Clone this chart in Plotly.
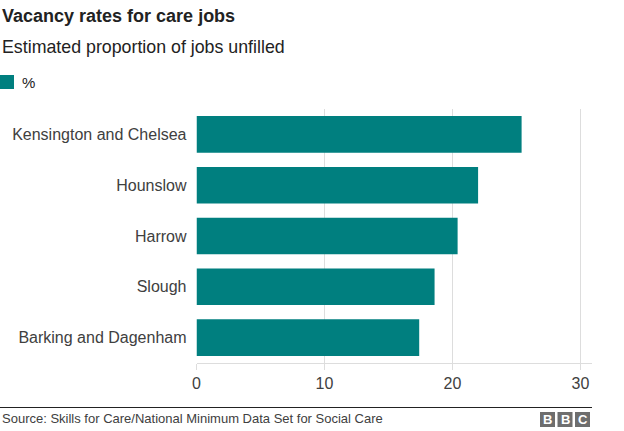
import plotly.graph_objects as go

W, H = 624, 431

boroughs = ["Kensington and Chelsea", "Hounslow", "Harrow", "Slough", "Barking and Dagenham"]
vacancy_pct = [25.4, 22.0, 20.4, 18.6, 17.4]
x_ticks = [0, 10, 20, 30]

TEAL = "#007f7f"
TXT = "#404040"
FONT = "Liberation Sans, Arial, sans-serif"

def px(x):
    return x / W

def py(y):
    return 1 - y / H

fig = go.Figure(go.Bar(
    x=vacancy_pct, y=boroughs, orientation="h",
    marker=dict(color=TEAL, line=dict(width=0)),
    showlegend=False, hoverinfo="x+y",
))

fig.update_layout(
    width=W, height=H,
    template="none",
    margin=dict(l=0, r=0, t=0, b=0),
    paper_bgcolor="white", plot_bgcolor="white",
    font=dict(family=FONT, color=TXT, size=16),
    bargap=0.28,
    xaxis=dict(
        domain=[px(196.5), px(592)],
        range=[0, 30.9],
        tickvals=x_ticks,
        ticktext=[str(v) for v in x_ticks],
        showgrid=True, gridcolor="#dddddd", gridwidth=1,
        zeroline=False,
        showline=True, linecolor="#dddddd", linewidth=1,
        ticks="outside", ticklen=6, tickcolor="#dddddd",
        tickfont=dict(size=16, color=TXT),
        automargin=False, fixedrange=True,
    ),
    yaxis=dict(
        domain=[py(363), py(109)],
        categoryorder="array", categoryarray=boroughs,
        autorange="reversed",
        showgrid=False, zeroline=False, showline=False,
        ticks="", ticklabelstandoff=9,
        tickfont=dict(size=16, color=TXT),
        automargin=False, fixedrange=True,
    ),
)

annotations = [
    dict(text="<b>Vacancy rates for care jobs</b>", x=px(0), y=py(16),
         font=dict(size=18, color="#222222")),
    dict(text="Estimated proportion of jobs unfilled", x=px(0), y=py(47),
         font=dict(size=17.8, color="#222222")),
    dict(text="%", x=px(20), y=py(82), font=dict(size=15, color="#222222")),
    dict(text="Source: Skills for Care/National Minimum Data Set for Social Care",
         x=px(0), y=py(418), font=dict(size=13, color=TXT)),
]
for a in annotations:
    a.update(xref="paper", yref="paper", xanchor="left", yanchor="middle",
             showarrow=False)
    fig.add_annotation(**a)

# Legend swatch
fig.add_shape(type="rect", xref="paper", yref="paper",
              x0=px(0), x1=px(14), y0=py(89), y1=py(75),
              fillcolor=TEAL, line=dict(width=0))

# Footer rule
fig.add_shape(type="line", xref="paper", yref="paper",
              x0=px(0), x1=px(592), y0=py(407.5), y1=py(407.5),
              line=dict(color="#222222", width=1))

# BBC logo
for i, letter in enumerate(["B", "B", "C"]):
    x0 = 540 + i * 17.5
    fig.add_shape(type="rect", xref="paper", yref="paper",
                  x0=px(x0), x1=px(x0 + 15), y0=py(427), y1=py(412),
                  fillcolor="#6e6e6e", line=dict(width=0))
    fig.add_annotation(text="<b>%s</b>" % letter, xref="paper", yref="paper",
                       x=px(x0 + 7.5), y=py(419.5), xanchor="center", yanchor="middle",
                       showarrow=False, font=dict(size=13, color="white", family=FONT))

fig.write_html("out.html", config={"displayModeBar": False},
               post_script="document.body.style.margin='0';document.body.style.overflow='hidden';")
